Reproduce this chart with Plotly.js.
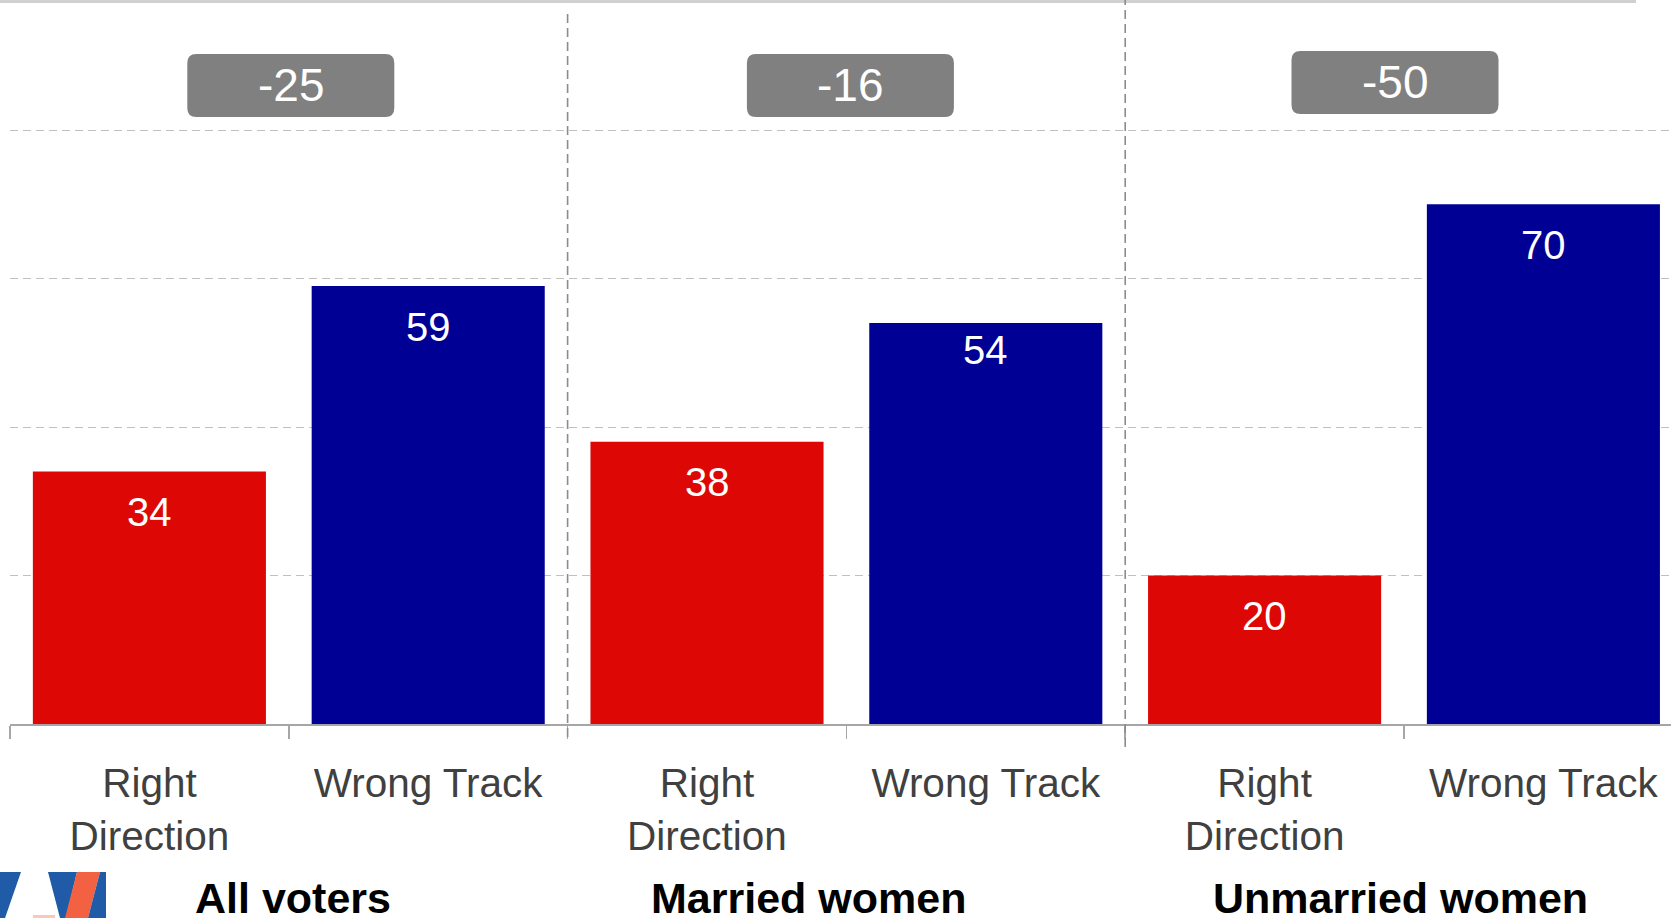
<!DOCTYPE html>
<html>
<head>
<meta charset="utf-8">
<script src="https://cdn.plot.ly/plotly-3.0.1.min.js"></script>
<style>
  html, body { margin: 0; padding: 0; background: #ffffff; }
  #chart { width: 1671px; height: 918px; }
</style>
</head>
<body>
<div id="chart"></div>
<script>
// ---- data ----
const groups = ['All voters', 'Married women', 'Unmarried women'];
const rightDirection = [34, 38, 20];
const wrongTrack = [59, 54, 70];
const barLabels = ['Right<br>Direction', 'Wrong Track'];

// ---- styling ----
const RED = '#DD0806';
const BLUE = '#000094';
const FONT = '"Liberation Sans", Arial, Helvetica, sans-serif';

// geometry of the figure (pixels)
const W = 1671, H = 918;
const ML = 10, MR = 0, MT = 0, MB = 194;
const plotW = W - ML - MR, plotH = H - MT - MB;
const catPx = 278.8;         // width of one category in px
const pxPerUnit = 7.425;     // y scale
const xRange = [-0.5, -0.5 + plotW / catPx];
const yRange = [0, plotH / pxPerUnit];
const px = v => (v - ML) / plotW;
const py = v => (H - MB - v) / plotH;

// positions from data
const rdX = groups.map((g, i) => 2 * i);
const wtX = groups.map((g, i) => 2 * i + 1);
const groupX = groups.map((g, i) => 2 * i + 0.5);
const net = groups.map((g, i) => rightDirection[i] - wrongTrack[i]);

const tickVals = [], tickText = [];
groups.forEach((g, i) => { tickVals.push(2 * i, 2 * i + 1); tickText.push(barLabels[0], barLabels[1]); });
const boundaries = [];
for (let k = 0; k <= groups.length * 2; k++) boundaries.push(k - 0.5);

const traces = [
  { type: 'bar', x: rdX, y: rightDirection, width: 0.836, marker: { color: RED }, hoverinfo: 'skip', name: 'Right Direction' },
  { type: 'bar', x: wtX, y: wrongTrack, width: 0.836, marker: { color: BLUE }, hoverinfo: 'skip', name: 'Wrong Track' }
];

const annotations = [];
// value labels inside bars
const rdShift = [-40, -40, -40], wtShift = [-41, -27, -41];
rdX.forEach((x, i) => annotations.push({ x: x, y: rightDirection[i], xref: 'x', yref: 'y', text: String(rightDirection[i]), showarrow: false, yanchor: 'middle', yshift: rdShift[i], font: { family: FONT, size: 40, color: '#ffffff' } }));
wtX.forEach((x, i) => annotations.push({ x: x, y: wrongTrack[i], xref: 'x', yref: 'y', text: String(wrongTrack[i]), showarrow: false, yanchor: 'middle', yshift: wtShift[i], font: { family: FONT, size: 40, color: '#ffffff' } }));
// net badges
const badgeY = 86;
const badgeDx = [2, 4, -9], badgeDy = [0, 0, 3];
groupX.forEach((x, i) => annotations.push({ x: x, y: badgeY, xref: 'x', yref: 'y', xshift: badgeDx[i], yshift: badgeDy[i], text: String(net[i]), showarrow: false, yanchor: 'middle', font: { family: FONT, size: 46, color: '#ffffff' } }));
// group titles
const titleShift = [4, -38, -4];
groups.forEach((g, i) => annotations.push({ x: groupX[i], y: py(898), xref: 'x', yref: 'paper', xshift: titleShift[i], text: '<b>' + g + '</b>', showarrow: false, yanchor: 'middle', font: { family: FONT, size: 43, color: '#000000' } }));

const shapes = [];
// top frame line
shapes.push({ type: 'line', xref: 'paper', yref: 'paper', x0: px(0), x1: px(1636), y0: py(1), y1: py(1), line: { color: '#d0d0d0', width: 4 }, layer: 'above' });
// group dividers
[1.5, 3.5].forEach((x, k) => shapes.push({ type: 'line', xref: 'x', yref: 'paper', x0: x, x1: x, y0: py(737 + (k ? 10 : 0)), y1: py(k ? 0 : 10), line: { color: '#8c8c8c', width: 1.6, dash: '9px,5px' }, layer: 'above' }));
// badge backgrounds (rounded rects, pixel sized)
const bw = 207, bh = 63, r = 9;
const hw = bw / 2, hh = bh / 2;
const rrPath = (dx, dy) => {
  const L = -hw + dx, R = hw + dx, B = -hh + dy, T = hh + dy;
  return `M ${L + r} ${B} L ${R - r} ${B} Q ${R} ${B} ${R} ${B + r} L ${R} ${T - r} Q ${R} ${T} ${R - r} ${T} L ${L + r} ${T} Q ${L} ${T} ${L} ${T - r} L ${L} ${B + r} Q ${L} ${B} ${L + r} ${B} Z`;
};
groupX.forEach((x, i) => shapes.push({ type: 'path', xref: 'x', yref: 'y', xsizemode: 'pixel', ysizemode: 'pixel', xanchor: x, yanchor: badgeY, path: rrPath(badgeDx[i], badgeDy[i]), fillcolor: '#808080', line: { width: 0 }, layer: 'below' }));
// logo (bottom-left)
const poly = pts => 'M ' + pts.map(p => px(p[0]) + ',' + py(p[1])).join(' L ') + ' Z';
const LOGO_BLUE = '#1f5ba6', LOGO_OR = '#f26242';
[
  [[[0, 872], [21, 872], [5, 918], [0, 918]], LOGO_BLUE],
  [[[48, 872], [77, 872], [66, 918], [60, 918]], LOGO_BLUE],
  [[[77, 872], [100, 872], [88, 918], [65, 918]], LOGO_OR],
  [[[100, 872], [106, 872], [106, 918], [88, 918]], LOGO_BLUE],
  [[[33, 915], [55, 915], [55, 918], [33, 918]], '#f8c9b8']
].forEach(s => shapes.push({ type: 'path', xref: 'paper', yref: 'paper', path: poly(s[0]), fillcolor: s[1], line: { width: 0 }, layer: 'above' }));

const layout = {
  width: W, height: H,
  margin: { l: ML, r: MR, t: MT, b: MB, pad: 0 },
  paper_bgcolor: '#ffffff', plot_bgcolor: '#ffffff',
  showlegend: false,
  barmode: 'overlay',
  font: { family: FONT },
  xaxis: {
    type: 'linear', range: xRange, fixedrange: true,
    tickmode: 'array', tickvals: tickVals, ticktext: tickText,
    ticks: '', showgrid: false, zeroline: false,
    showline: true, linecolor: '#a6a6a6', linewidth: 1.5,
    tickfont: { family: FONT, size: 40.5, color: '#404040' },
    ticklabelstandoff: 23,
    minor: { tickmode: 'array', tickvals: boundaries, ticks: 'outside', ticklen: 13, tickcolor: '#a6a6a6', tickwidth: 1.5, showgrid: false }
  },
  yaxis: {
    range: yRange, fixedrange: true,
    tickmode: 'array', tickvals: [20, 40, 60, 80],
    showticklabels: false, ticks: '', zeroline: false, showline: false,
    showgrid: true, gridcolor: '#c0c0c0', gridwidth: 1, griddash: '8px,5px'
  },
  annotations: annotations,
  shapes: shapes
};

Plotly.newPlot('chart', traces, layout, { displayModeBar: false, staticPlot: true });
</script>
</body>
</html>
